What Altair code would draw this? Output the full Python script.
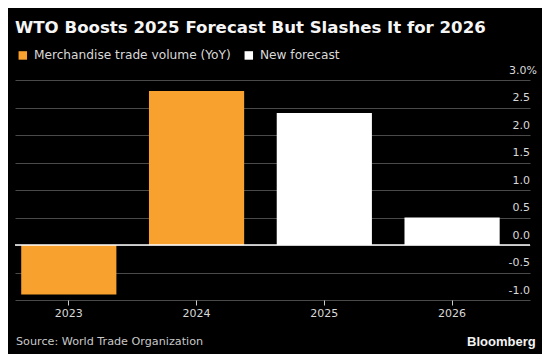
import altair as alt
import pandas as pd

# ---- data ----
years = ["2023", "2024", "2025", "2026"]
values = [-0.9, 2.8, 2.4, 0.5]
series = ["Merchandise trade volume (YoY)", "Merchandise trade volume (YoY)",
          "New forecast", "New forecast"]
series_names = ["Merchandise trade volume (YoY)", "New forecast"]
series_colors = ["#F9A12E", "#FFFFFF"]
y_ticks = [-1.0, -0.5, 0.0, 0.5, 1.0, 1.5, 2.0, 2.5, 3.0]

title_text = "WTO Boosts 2025 Forecast But Slashes It for 2026"
source_text = "Source: World Trade Organization"
brand_text = "Bloomberg"

df = pd.DataFrame({"year": years, "value": values, "series": series})

FONT = "DejaVu Sans"
LABEL = "#d9d9d9"

x_scale = alt.Scale(paddingInner=0.255, paddingOuter=0.143, align=0.17)
y_scale = alt.Scale(domain=[-1, 3], nice=False, zero=False)

bars = alt.Chart(df).mark_bar().encode(
    x=alt.X("year:N", scale=x_scale, sort=years,
            axis=alt.Axis(title=None, labelAngle=0, domain=False, grid=False,
                          ticks=True, tickSize=5, tickColor="#cccccc", tickWidth=1,
                          labelPadding=2, labelFont=FONT, labelFontSize=11,
                          labelColor=LABEL)),
    y=alt.Y("value:Q", scale=y_scale,
            axis=alt.Axis(title=None, orient="right", values=y_ticks, tickCount=20,
                          labelExpr="(datum.value < 0 ? '-' : '') + format(abs(datum.value), '.1f') + (datum.value == 3 ? '%' : '')",
                          domain=False, ticks=False, tickSize=0,
                          grid=True, gridColor="#4a4a4a", gridWidth=1,
                          labelOverlap=False, labelFlush=False,
                          labelAlign="right", labelBaseline="alphabetic",
                          labelOffset=-7,
                          labelPadding={"condition": {"test": "datum.value == 3", "value": 6.5},
                                        "value": -0.5},
                          labelFont=FONT, labelFontSize=11, labelColor=LABEL)),
    color=alt.Color("series:N",
                    scale=alt.Scale(domain=series_names, range=series_colors),
                    legend=alt.Legend(orient="none", legendX=1.7, legendY=-31,
                                      direction="horizontal", title=None,
                                      symbolType="square", symbolSize=72,
                                      symbolStrokeWidth=0, labelFont=FONT,
                                      labelFontSize=12.2, labelColor=LABEL,
                                      labelOffset=5, columnPadding=11,
                                      padding=0, labelLimit=400)),
)

zero = alt.Chart(pd.DataFrame({"z": [0]})).mark_rule(color="#ffffff", strokeWidth=1.5).encode(
    y=alt.Y("z:Q", scale=y_scale)
)

source = alt.Chart(pd.DataFrame({"t": [source_text]})).mark_text(
    align="left", baseline="alphabetic", font=FONT, fontSize=11.2, color="#c8c8c8"
).encode(text="t:N", x=alt.value(1), y=alt.value(265))

brand = alt.Chart(pd.DataFrame({"t": [brand_text]})).mark_text(
    align="right", baseline="alphabetic", font="Liberation Sans", fontSize=13,
    fontWeight="bold", color="#f2f2f2"
).encode(text="t:N", x=alt.value(520.7), y=alt.value(266))

chart = alt.layer(bars, zero, source, brand).properties(
    width=515, height=220,
    title=alt.TitleParams(title_text, anchor="start", frame="group", font=FONT,
                          fontSize=16.6, fontWeight="bold", color="#f5f5f5",
                          baseline="alphabetic", offset=15, dy=16),
    background="#000000",
    autosize=alt.AutoSizeParams(type="none"),
    padding={"left": 7, "top": 72, "right": 12, "bottom": 54},
).configure_view(stroke=None)

chart.save("out.html", embed_options={"renderer": "svg", "actions": False})
